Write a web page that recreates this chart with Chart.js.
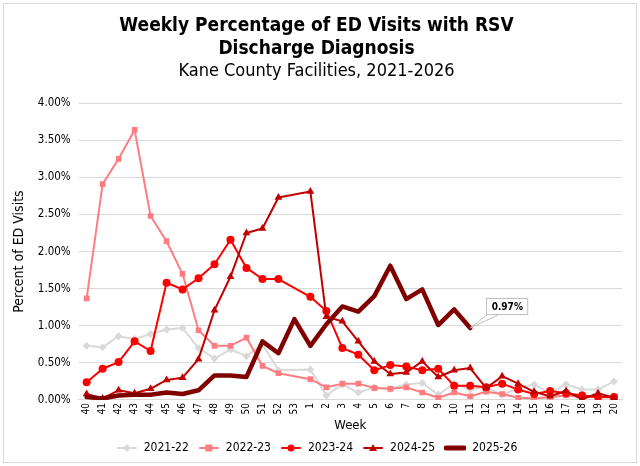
<!DOCTYPE html>
<html>
<head>
<meta charset="utf-8">
<title>RSV ED Visits - Kane County</title>
<script src="https://cdn.jsdelivr.net/npm/chart.js@4"></script>
<style>
  html, body { margin: 0; padding: 0; background: #fff; }
  #wrap { position: relative; width: 640px; height: 466px; }
</style>
</head>
<body>
<div id="wrap"><canvas id="mycanvas"></canvas></div>
<script>
//-------------------------
// Data
//-------------------------
var weeks = ['40','41','42','43','44','45','46','47','48','49','50','51','52','53',
             '1','2','3','4','5','6','7','8','9','10','11','12','13','14','15','16','17','18','19','20'];

var seasons = ['2021-22', '2022-23', '2023-24', '2024-25', '2025-26'];

var s2122 = [0.73,0.71,0.86,0.82,0.89,0.95,0.97,0.70,0.56,0.68,0.59,0.75,0.40,null,
             0.41,0.06,0.21,0.10,0.17,0.15,0.21,0.23,0.07,0.22,0.14,0.17,0.07,0.16,0.21,0.09,0.21,0.14,0.14,0.25];
var s2223 = [1.37,2.91,3.25,3.64,2.48,2.14,1.70,0.94,0.73,0.73,0.84,0.46,0.36,null,
             0.28,0.17,0.22,0.22,0.16,0.15,0.17,0.10,0.03,0.10,0.05,0.11,0.08,0.03,0.02,0.04,0.06,0.04,0.04,0.03];
var s2324 = [0.24,0.42,0.51,0.79,0.66,1.58,1.49,1.64,1.83,2.16,1.78,1.63,1.63,null,
             1.39,1.20,0.70,0.61,0.40,0.47,0.45,0.40,0.42,0.19,0.19,0.17,0.22,0.14,0.08,0.12,0.09,0.06,0.04,0.04];
var s2425 = [0.08,0.02,0.13,0.09,0.15,0.27,0.30,0.55,1.21,1.66,2.25,2.31,2.73,null,
             2.81,1.12,1.06,0.79,0.52,0.35,0.37,0.52,0.31,0.40,0.43,0.16,0.32,0.22,0.11,0.05,0.12,0.01,0.09,0.03];
var s2526 = [0.04,0.02,0.06,0.07,0.07,0.10,0.08,0.13,0.33,0.33,0.31,0.79,0.63,1.09,
             0.73,1.02,1.26,1.19,1.40,1.81,1.36,1.49,1.01,1.22,0.97,null,null,null,null,null,null,null,null,null];

var yTicks = [0, 0.5, 1.0, 1.5, 2.0, 2.5, 3.0, 3.5, 4.0];

//-------------------------
// Styling
//-------------------------
var FONT = "'DejaVu Sans Condensed', 'DejaVu Sans', sans-serif";
var colors = ['#d9d9d9', '#ff7c80', '#ff0000', '#c00000', '#800000'];
var markers = ['rectRot', 'rect', 'circle', 'triangle', false];

// little "line + marker" pictures for the legend
function legendIcon(i) {
  var c = document.createElement('canvas');
  c.width = 22; c.height = 12;
  var g = c.getContext('2d');
  g.strokeStyle = colors[i];
  g.fillStyle = colors[i];
  g.lineCap = 'round';
  g.lineWidth = (i === 4) ? 5 : 2;
  g.beginPath(); g.moveTo(2, 6); g.lineTo(20, 6); g.stroke();
  var cx = 11, cy = 6;
  g.beginPath();
  if (markers[i] === 'rectRot') {
    g.moveTo(cx, cy - 4); g.lineTo(cx + 4, cy); g.lineTo(cx, cy + 4); g.lineTo(cx - 4, cy);
  } else if (markers[i] === 'rect') {
    g.rect(cx - 3.5, cy - 3.5, 7, 7);
  } else if (markers[i] === 'circle') {
    g.arc(cx, cy, 3.5, 0, Math.PI * 2);
  } else if (markers[i] === 'triangle') {
    g.moveTo(cx, cy - 4); g.lineTo(cx + 4, cy + 3); g.lineTo(cx - 4, cy + 3);
  }
  g.closePath(); g.fill();
  return c;
}
var icons = seasons.map(function(s, i) { return legendIcon(i); });

// outer chart border like the spreadsheet frame
var framePlugin = {
  id: 'frame',
  beforeDraw: function(chart) {
    var ctx = chart.ctx;
    ctx.save();
    ctx.fillStyle = '#fff';
    ctx.fillRect(0, 0, chart.width, chart.height);
    ctx.strokeStyle = '#d9d9d9';
    ctx.lineWidth = 1;
    ctx.strokeRect(3.5, 3.5, chart.width - 7, chart.height - 7);
    ctx.restore();
  }
};

// callout on the latest 2025-26 value
var calloutPlugin = {
  id: 'callout',
  afterDatasetsDraw: function(chart) {
    var di = 4;
    var data = chart.data.datasets[di].data;
    var last = -1;
    for (var k = 0; k < data.length; k++) { if (data[k] !== null) last = k; }
    if (last < 0) return;
    var pt = chart.getDatasetMeta(di).data[last];
    var x = pt.x, y = pt.y;
    var txt = data[last].toFixed(2) + '%';
    var ctx = chart.ctx;
    ctx.save();
    ctx.font = 'bold 10px ' + FONT;
    var w = ctx.measureText(txt).width + 10, h = 16;
    var bx = x + 16, by = y - 30;
    ctx.strokeStyle = '#bfbfbf';
    ctx.lineWidth = 1;
    ctx.beginPath();
    ctx.moveTo(x, y); ctx.lineTo(bx + 2, by + h);
    ctx.moveTo(x, y); ctx.lineTo(bx + 14, by + h);
    ctx.stroke();
    ctx.fillStyle = '#fff';
    ctx.fillRect(bx, by, w, h);
    ctx.strokeRect(Math.round(bx) + 0.5, Math.round(by) + 0.5, w, h);
    ctx.fillStyle = '#000';
    ctx.textAlign = 'center';
    ctx.textBaseline = 'middle';
    ctx.fillText(txt, bx + w / 2 + 0.5, by + h / 2 + 1);
    ctx.restore();
  }
};

//-------------------------
// Main Program
//-------------------------
var seriesData = [s2122, s2223, s2324, s2425, s2526];

var chartdata = {
  labels: weeks,
  datasets: seasons.map(function(name, i) {
    var thick = (i === 4);
    return {
      label: name,
      data: seriesData[i],
      borderColor: colors[i],
      backgroundColor: colors[i],
      borderWidth: thick ? 4.5 : 2,
      pointStyle: markers[i],
      pointRadius: thick ? 0 : (markers[i] === 'triangle' ? 4.5 : 4),
      pointHoverRadius: thick ? 0 : 4,
      pointBorderWidth: 0,
      borderJoinStyle: 'round',
      borderCapStyle: 'round',
      spanGaps: true,
      tension: 0,
      order: 5 - i  // later seasons sit on top
    };
  })
};

var ctx = document.getElementById('mycanvas');

var lineGraph = new Chart(ctx, {
  type: 'line',
  data: chartdata,
  plugins: [framePlugin, calloutPlugin],
  options: {
    responsive: true,
    maintainAspectRatio: false,
    animation: false,
    layout: { padding: { left: 11, right: 18, top: 8, bottom: 2 } },
    plugins: {
      title: {
        display: true,
        text: ['Weekly Percentage of ED Visits with RSV', 'Discharge Diagnosis'],
        color: '#000',
        font: { family: FONT, size: 19, weight: 'bold', lineHeight: 1.2 },
        padding: { top: 7, bottom: 0 }
      },
      subtitle: {
        display: true,
        text: 'Kane County Facilities, 2021-2026',
        color: '#000',
        font: { family: FONT, size: 18, lineHeight: 1.2 },
        padding: { top: 0, bottom: 21 }
      },
      legend: {
        position: 'bottom',
        labels: {
          usePointStyle: true,
          pointStyleWidth: 22,
          padding: 9,
          color: '#000',
          font: { family: FONT, size: 12 },
          generateLabels: function(chart) {
            return chart.data.datasets.map(function(ds, i) {
              return {
                text: ds.label,
                pointStyle: icons[i],
                datasetIndex: i,
                hidden: !chart.isDatasetVisible(i),
                fontColor: '#000',
                fillStyle: 'transparent',
                strokeStyle: 'transparent',
                lineWidth: 0
              };
            });
          }
        }
      },
      tooltip: { enabled: false }
    },
    scales: {
      x: {
        offset: true,
        grid: { display: false, drawTicks: false },
        border: { color: '#d9d9d9' },
        ticks: {
          autoSkip: false,
          maxRotation: 90,
          minRotation: 90,
          padding: 3,
          color: '#000',
          font: { family: FONT, size: 10 }
        },
        title: {
          display: true,
          text: 'Week',
          color: '#000',
          font: { family: FONT, size: 13 },
          padding: { top: 0, bottom: 0 }
        }
      },
      y: {
        min: 0,
        max: 4,
        afterBuildTicks: function(axis) {
          axis.ticks = yTicks.map(function(v) { return { value: v }; });
        },
        grid: { color: '#d9d9d9', drawTicks: false },
        border: { display: false },
        ticks: {
          padding: 8,
          color: '#000',
          font: { family: FONT, size: 11.5 },
          callback: function(v) { return Number(v).toFixed(2) + '%'; }
        },
        title: {
          display: true,
          text: 'Percent of ED Visits',
          color: '#000',
          font: { family: FONT, size: 14 },
          padding: { top: 0, bottom: 2 }
        }
      }
    }
  }
});
</script>
</body>
</html>
